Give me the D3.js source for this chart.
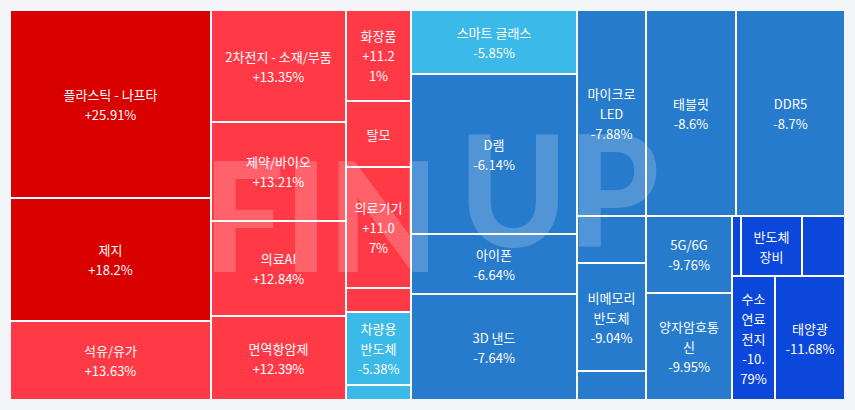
<!DOCTYPE html>
<html>
<head>
<meta charset="utf-8">
<script src="https://cdn.jsdelivr.net/npm/d3@7"></script>
<style>
  html, body { margin: 0; padding: 0; background: #f3f5f9; }
  svg { display: block; }
</style>
</head>
<body>
<svg id="chart" width="855" height="410"></svg>
<script>
// ---- data (ordered by daily change, descending) ----
const names = [
  "플라스틱 - 나프타", "제지", "석유/유가",
  "2차전지 - 소재/부품", "제약/바이오", "의료AI", "면역항암제",
  "화장품", "탈모", "의료기기", "", "차량용 반도체", "",
  "스마트 글래스", "D램", "아이폰", "3D 낸드",
  "마이크로 LED", "태블릿", "DDR5",
  "", "비메모리 반도체", "",
  "5G/6G", "양자암호통신",
  "", "반도체 장비", "",
  "수소연료전지", "태양광"
];
const changes = [
  25.91, 18.2, 13.63,
  13.35, 13.21, 12.84, 12.39,
  11.21, 11.15, 11.07, 10.85, -5.38, -5.6,
  -5.85, -6.14, -6.64, -7.64,
  -7.88, -8.6, -8.7,
  -8.9, -9.04, -9.5,
  -9.76, -9.95,
  -10.05, -10.2, -10.5,
  -10.79, -11.68
];
const sizes = [
  37590, 24520, 15880,
  14870, 13270, 12600, 11260,
  5915, 4225, 7865, 1495, 4745, 975,
  10540, 26480, 9910, 17480,
  14040, 18350, 22345,
  3196, 7276, 1972,
  6596, 9142,
  540, 3660, 2580,
  5289, 8610
];
const colorSteps = [-10, -6, 0, 15];
const colorRange = ["#0b47db", "#277bcc", "#3bb9e8", "#ff3a46", "#d90000"];

// ---- layout ----
const W = 833, H = 388, X0 = 11, Y0 = 11;
const svg = d3.select("#chart");
const color = d3.scaleThreshold().domain(colorSteps).range(colorRange);

const root = d3.hierarchy({
  children: names.map((n, i) => ({ name: n, change: changes[i], value: sizes[i] }))
}).sum(d => d.value || 0);

d3.treemap().tile(d3.treemapSquarify).size([W, H]).paddingInner(2).round(true)(root);

const g = svg.append("g").attr("transform", `translate(${X0},${Y0})`);
g.append("rect").attr("x", 0).attr("y", 0).attr("width", W).attr("height", H).attr("fill", "#ffffff");

const leaves = root.leaves();
g.selectAll("rect.cell").data(leaves).join("rect")
  .attr("class", "cell")
  .attr("x", d => d.x0).attr("y", d => d.y0)
  .attr("width", d => d.x1 - d.x0).attr("height", d => d.y1 - d.y0)
  .attr("fill", d => color(d.data.change));

// ---- watermark ----
const wm = g.append("g").attr("fill", "#ffffff").attr("opacity", 0.2)
  .attr("font-family", "Lato, 'Open Sans', sans-serif").attr("font-weight", 900);
wm.append("text").attr("x", 192).attr("y", 261).attr("font-size", 152)
  .attr("textLength", 236).attr("lengthAdjust", "spacingAndGlyphs").text("FIN");
wm.append("text").attr("x", 448).attr("y", 236).attr("font-size", 154)
  .attr("textLength", 200).attr("lengthAdjust", "spacingAndGlyphs").text("UP");

// ---- labels ----
function chW(ch) {
  if (/[\uAC00-\uD7A3]/.test(ch)) return 13;
  if (/[0-9]/.test(ch)) return 11;
  if (ch === "+") return 12;
  if (ch === "-") return 4;
  if (ch === ".") return 3;
  if (ch === "%") return 7;
  if (ch === " ") return 4;
  if (ch === "/") return 5;
  if (/[A-Z]/.test(ch)) return 10;
  return 7;
}
function strW(s) { let w = 0; for (const c of s) w += chW(c); return w; }
function wrap(text, maxW) {
  const tokens = text.match(/[A-Za-z0-9+\-.%]+|./g) || [];
  const lines = []; let line = "", lw = 0;
  for (const tok of tokens) {
    const tw = strW(tok);
    if (lw + tw <= maxW) { line += tok; lw += tw; continue; }
    if (tok === " ") { if (line.trim()) lines.push(line.trimEnd()); line = ""; lw = 0; continue; }
    if (line.trim()) { lines.push(line.trimEnd()); line = ""; lw = 0; }
    if (tw <= maxW) { line = tok; lw = tw; continue; }
    for (const ch of tok) {
      const cw = chW(ch);
      if (lw + cw > maxW && line) { lines.push(line); line = ""; lw = 0; }
      line += ch; lw += cw;
    }
  }
  if (line.trim()) lines.push(line.trimEnd());
  return lines;
}
const LH = 20, PADX = 8.5, PADY = 3.5;
const fmt = c => (c > 0 ? "+" : "") + String(c) + "%";

leaves.forEach(d => {
  if (!d.data.name) return;
  const w = d.x1 - d.x0, h = d.y1 - d.y0;
  const avail = w - PADX;
  const nameLines = wrap(d.data.name, avail);
  const valLines = wrap(fmt(d.data.change), avail);
  let lines = nameLines.concat(valLines);
  if (lines.length * LH > h - 2 * PADY) {
    lines = nameLines.length * LH <= h - 2 * PADY ? nameLines : [];
  }
  const cx = (d.x0 + d.x1) / 2, cy = (d.y0 + d.y1) / 2;
  lines.forEach((t, i) => {
    g.append("text")
      .attr("x", cx)
      .attr("y", cy + (i - (lines.length - 1) / 2) * LH)
      .attr("text-anchor", "middle")
      .attr("dominant-baseline", "central")
      .attr("font-family", "'Noto Sans CJK KR', 'Noto Sans', sans-serif")
      .attr("font-size", 13)
      .attr("fill", "#ffffff")
      .text(t);
  });
});
</script>
</body>
</html>
